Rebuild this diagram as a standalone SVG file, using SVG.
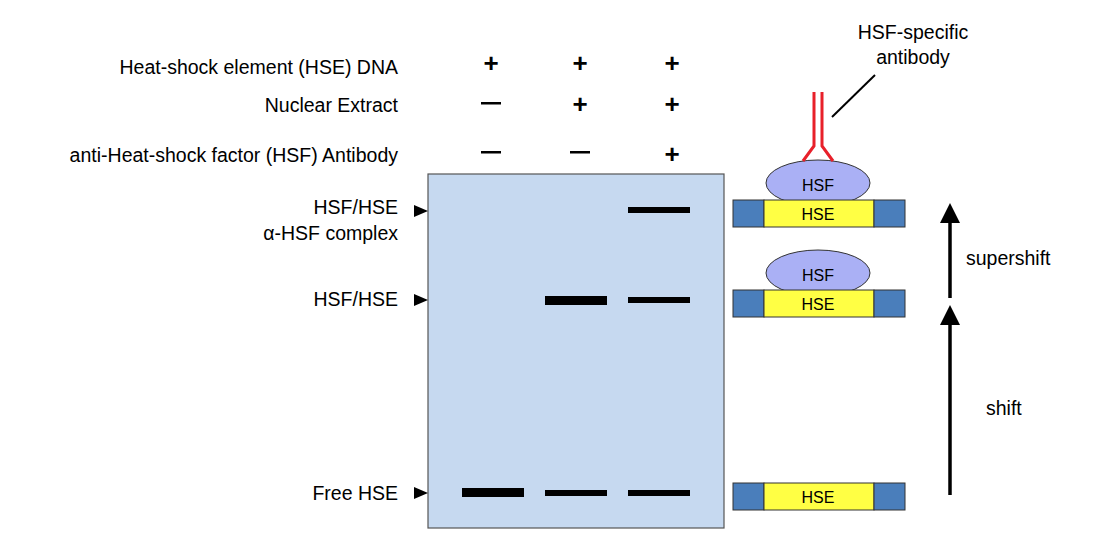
<svg xmlns="http://www.w3.org/2000/svg" width="1110" height="546" viewBox="0 0 1110 546">
<style>
text{font-family:"Liberation Sans","Open Sans",sans-serif;font-size:19.5px;fill:#000}
.r{text-anchor:end}.m{text-anchor:middle}
.band{fill:#000}
.blue{fill:#4a7ebb;stroke:#333;stroke-width:1}
.yel{fill:#ffff44;stroke:#333;stroke-width:1}
.hsf{fill:#aab0f5;stroke:#333;stroke-width:1}
.sign{font-size:26px;font-weight:bold}
.s{font-size:16px}
</style>
<defs>
<marker id="up" viewBox="0 0 10 10" markerWidth="20" markerHeight="20" refX="2" refY="5" orient="auto" markerUnits="userSpaceOnUse"><path d="M0,0 L10,5 L0,10 z"/></marker>
</defs>
<g id="header">
<text class="r" x="398" y="74">Heat-shock element (HSE) DNA</text>
<text class="r" x="398" y="112">Nuclear Extract</text>
<text class="r" x="398" y="162">anti-Heat-shock factor (HSF) Antibody</text>
<text class="m sign" x="491" y="72">+</text><text class="m sign" x="580" y="72">+</text><text class="m sign" x="672" y="72">+</text>
<text class="m sign" x="580" y="113">+</text><text class="m sign" x="672" y="113">+</text>
<text class="m sign" x="672" y="163">+</text>
<g fill="#000">
<rect x="481" y="102" width="20" height="2.5"/>
<rect x="481" y="151" width="20" height="2.5"/>
<rect x="570" y="151" width="20" height="2.5"/>
</g>
</g>
<g id="gel">
<rect x="428" y="174" width="296" height="354" fill="#c6d9f0" stroke="#555" stroke-width="1.2"/>
<rect class="band" x="628" y="207" width="62" height="6"/>
<rect class="band" x="545" y="296" width="62" height="9"/>
<rect class="band" x="628" y="297" width="62" height="6"/>
<rect class="band" x="462" y="488" width="62" height="9"/>
<rect class="band" x="545" y="490" width="62" height="6"/>
<rect class="band" x="628" y="490" width="62" height="6"/>
</g>
<g id="lane-labels">
<text class="r" x="398" y="214">HSF/HSE</text>
<text class="r" x="398" y="240">α-HSF complex</text>
<path d="M414,205 L428,211 L414,217 z"/>
<text class="r" x="398" y="306">HSF/HSE</text>
<path d="M414,294 L428,300 L414,306 z"/>
<text class="r" x="398" y="500">Free HSE</text>
<path d="M414,487 L428,493 L414,499 z"/>
</g>
<g id="complex-super">
<ellipse class="hsf" cx="818" cy="183" rx="52" ry="23"/>
<rect class="blue" x="733" y="200" width="31" height="27"/><rect class="yel" x="764" y="200" width="110" height="27"/><rect class="blue" x="874" y="200" width="31" height="27"/>
<text class="m s" x="818" y="191">HSF</text>
<text class="m s" x="818" y="220">HSE</text>
<path d="M814,92 V146 L803,161 M822,92 V146 L833,161" fill="none" stroke="#e8202a" stroke-width="3"/>
</g>
<g id="antibody-label">
<text class="m" x="913" y="39">HSF-specific</text>
<text class="m" x="913" y="64">antibody</text>
<line x1="832" y1="117" x2="875" y2="75" stroke="#000" stroke-width="2"/>
</g>
<g id="complex-shift">
<ellipse class="hsf" cx="818" cy="273" rx="52" ry="23"/>
<rect class="blue" x="733" y="290" width="31" height="27"/><rect class="yel" x="764" y="290" width="110" height="27"/><rect class="blue" x="874" y="290" width="31" height="27"/>
<text class="m s" x="818" y="281">HSF</text>
<text class="m s" x="818" y="310">HSE</text>
</g>
<g id="free">
<rect class="blue" x="733" y="483" width="31" height="27"/><rect class="yel" x="764" y="483" width="110" height="27"/><rect class="blue" x="874" y="483" width="31" height="27"/>
<text class="m s" x="818" y="503">HSE</text>
</g>
<g id="connectors" stroke="#000" stroke-width="3.5">
<line x1="950" y1="298" x2="950" y2="219" marker-end="url(#up)"/>
<line x1="950" y1="495" x2="950" y2="321" marker-end="url(#up)"/>
</g>
<text x="966" y="265">supershift</text>
<text x="986" y="415">shift</text>
</svg>
